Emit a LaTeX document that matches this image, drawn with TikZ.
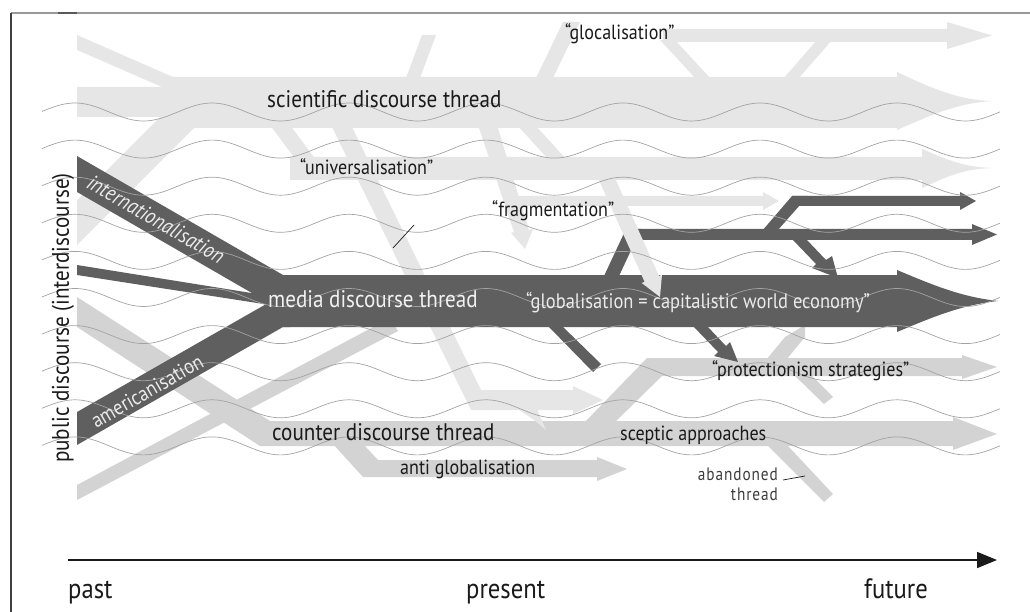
\documentclass[tikz,border=0pt]{standalone}
\usepackage{fontspec}
\setmainfont{PT Sans}[FakeStretch=0.88]
\newfontfamily\spacedfont{PT Sans}[FakeStretch=0.85,LetterSpace=5.0]
\usetikzlibrary{arrows.meta}
\definecolor{darkthread}{HTML}{5F5F5F}
\definecolor{palethread}{HTML}{E6E6E6}
\definecolor{midthread}{HTML}{D3D3D3}
\definecolor{waveline}{HTML}{A3A3A3}
\definecolor{ink}{HTML}{1A1A1A}

\begin{document}
\begin{tikzpicture}[x=1pt,y=-1pt,
    lt/.style={fill=palethread},
    md/.style={fill=midthread},
    dk/.style={fill=darkthread},
    wave/.style={draw=waveline,line width=0.7pt},
    leader/.style={draw=ink,line width=0.7pt},
    big/.style={font=\fontsize{24}{28}\selectfont,inner sep=0pt,text=ink},
    quoted/.style={font=\fontsize{20.5}{24}\selectfont,inner sep=0pt,text=ink},
    onDark/.style={font=\fontsize{20}{24}\selectfont,inner sep=0pt,text=white!92!black},
    timelabel/.style={font=\fontsize{28}{32}\selectfont,inner sep=0pt,text=ink,anchor=base west}]
    \useasboundingbox (0,0) rectangle (1030,612);
    % frame
    \draw[black!40,line width=1.5pt] (11,13) -- (1030,13);
    \draw[black!75,line width=1.2pt] (11,13) -- (11,612);
    \draw[black!65,line width=2.5pt] (58,13) -- (77,13);

    % scientific thread and its side threads
    \fill[lt] (77,35) -- (173,77) -- (173,87) -- (162,87) -- (77,50) -- cycle;
    \fill[lt] (77,200) -- (160,117) -- (200,117) -- (200,128) -- (194,128) -- (77,245) -- cycle;
    \fill[lt] (77,87) -- (173,87) -- (173,77) -- (897,77) -- (897,72)
        .. controls (935,90) and (960,100) .. (992,101)
        .. controls (960,103) and (935,113) .. (897,130) -- (897,128) -- (194,128) -- (194,117) -- (77,117) -- cycle;
    \fill[lt] (406,78) -- (420,78) -- (436,35) -- (422,35) -- cycle;
    \fill[lt] (536,78) -- (553,78) -- (580,22) -- (563,22) -- cycle;
    \fill[lt] (663,29) -- (947,29) -- (947,22) -- (992,35.5) -- (947,49) -- (947,42) -- (663,42) -- cycle;
    \fill[lt] (660,40) -- (675,40) -- (711,79) -- (696,79) -- cycle;
    \fill[lt] (817,40) -- (832,40) -- (798,79) -- (783,79) -- cycle;
    \fill[lt] (290,157) -- (922,157) -- (922,149)
        .. controls (950,161) and (965,167) .. (992,168)
        .. controls (965,169) and (950,175) .. (922,188) -- (922,180) -- (290,180) -- cycle;
    \fill[lt] (270,125) -- (290,125) -- (316,160) -- (296,160) -- cycle;
    \fill[lt] (517,125) -- (535,125) -- (567,160) -- (549,160) -- cycle;
    \fill[lt] (331,125) -- (351,125) -- (481,390) -- (573,390) -- (573,386) -- (603,400)
        -- (573,414) -- (573,410) -- (471,410) -- cycle;
    \fill[lt] (478,125) -- (497,125) -- (529,230) -- (533,229) -- (525,249) -- (511,233) -- (514,232) -- cycle;
    \fill[lt] (505,196) -- (763,196) -- (763,192) -- (779,201) -- (763,210) -- (763,206) -- (505,206) -- cycle;

    % counter discourse
    \fill[md] (77,297) -- (270,421) -- (953,421) -- (953,417) -- (997,434) -- (953,450) -- (953,446)
        -- (260,446) -- (77,327) -- cycle;
    \fill[md] (333,444) -- (363,477) -- (597,477) -- (597,481) -- (627,469) -- (597,457) -- (597,460)
        -- (378,460) -- (363,444) -- cycle;
    \fill[md] (77,485) -- (390,318) -- (398,331) -- (77,500) -- cycle;
    \fill[md] (585,422) -- (647,358) -- (962,358) -- (962,355) -- (997,367) -- (962,379) -- (962,376)
        -- (662,376) -- (615,422) -- cycle;
    \fill[md] (766,360) -- (786,360) -- (805,337) -- (805,325) -- (785,337) -- cycle;
    \fill[md] (795,376) -- (812,376) -- (833,397) -- (824,404) -- cycle;
    \fill[md] (768,446) -- (788,446) -- (833,494) -- (824,502) -- cycle;
    \fill[lt] (518,409) -- (537,409) -- (546,430) -- (534,420) -- cycle;

    % media thread
    \fill[dk] (77,156) -- (290,279) -- (290,300) -- (264,300) -- (77,192) -- cycle;
    \fill[dk] (77,265) -- (270,296) -- (270,305) -- (77,275) -- cycle;
    \fill[dk] (77,412) -- (275,299) -- (290,299) -- (290,327) -- (283,327) -- (77,445) -- cycle;
    \fill[dk] (262,301) -- (283,275) -- (897,275) -- (897,270)
        .. controls (935,286) and (962,297) .. (998,301)
        .. controls (962,305) and (935,316) .. (897,332) -- (897,327) -- (283,327) -- cycle;
    \fill[dk] (604,276) -- (626,229) -- (641,229) -- (619,276) -- cycle;
    \fill[dk] (626,229) -- (972,229) -- (972,224) -- (997,234.5) -- (972,245) -- (972,240) -- (626,240) -- cycle;
    \fill[dk] (762,231) -- (792,196) -- (808,196) -- (777,231) -- cycle;
    \fill[dk] (792,196) -- (960,196) -- (960,192) -- (976,201) -- (960,210) -- (960,206) -- (792,206) -- cycle;
    \fill[dk] (792,239) -- (806,239) -- (826,260) -- (832,256) -- (838,278) -- (812,268) -- (816,264) -- cycle;
    \fill[dk] (548,326) -- (562,326) -- (601,364) -- (593,372) -- cycle;
    \fill[dk] (693,326) -- (707,326) -- (726,346) -- (730,342) -- (738,362) -- (714,356) -- (718,352) -- cycle;
    \fill[lt] (598,178) -- (615,178) -- (659,276) -- (662,274.5) -- (660,297) -- (641.7,283) -- (644.6,281.8) -- cycle;

    % interdiscourse waves
    \foreach \k in {0,...,9}
        \draw[wave] plot[domain=42:1000,samples=160,smooth] (\x,{112+37.1*\k-9*cos(2.6277*(\x-897))});

    % labels
    \node[big,anchor=base west] (scientific) at (267,108) {scientific discourse thread};
    \node[quoted,anchor=base west] (universal) at (300,175) {“universalisation”};
    \node[quoted,anchor=base west] (fragment) at (492,217) {“fragmentation”};
    \node[quoted,anchor=base west] (glocal) at (565,40) {“glocalisation”};
    \node[big,anchor=base west,text=white!95!black] (media) at (268,307) {media discourse thread};
    \node[onDark,anchor=base west,font=\fontsize{21}{24}\selectfont] (globaleco) at (526,308) {“globalisation = capitalistic world economy”};
    \node[quoted,anchor=base west] (protect) at (712,376) {“protectionism strategies”};
    \node[big,anchor=base west] (counter) at (272,440) {counter discourse thread};
    \node[quoted,anchor=base west] (sceptic) at (620,440) {sceptic approaches};
    \node[quoted,anchor=base west] (antiglobal) at (400,474) {anti globalisation};
    \node[onDark,font=\fontsize{22}{24}\selectfont\itshape,rotate=-30] (intl) at (156,219) {internationalisation};
    \node[onDark,font=\fontsize{21}{24}\selectfont,rotate=30] (americ) at (147,391) {americanisation};
    \node[big,rotate=90] (public) at (63,318) {public discourse (interdiscourse)};
    \node[inner sep=0pt,text=ink!85,font=\fontsize{18}{20}\selectfont\spacedfont,anchor=base east] (aband) at (778,480) {abandoned};
    \node[inner sep=0pt,text=ink!85,font=\fontsize{18}{20}\selectfont\spacedfont,anchor=base east] (abandline) at (778,500) {thread};
    \coordinate (abandtip) at (805,476);
    \draw[leader] ([xshift=5pt]aband.base east) -- (abandtip);
    \coordinate (slashA) at (393,248);
    \coordinate (slashB) at (414,225);
    \draw[leader] (slashA) -- (slashB);

    % time axis
    \coordinate (tstart) at (68,560);
    \coordinate (tend) at (997,560);
    \draw[ink,line width=1.6pt,-{Triangle[length=20pt,width=16pt]}] (tstart) -- (tend);
    \node[timelabel] (past) at (68,598) {past};
    \node[timelabel] (present) at (466,598) {present};
    \node[timelabel] (future) at (864,598) {future};
\end{tikzpicture}
\end{document}
